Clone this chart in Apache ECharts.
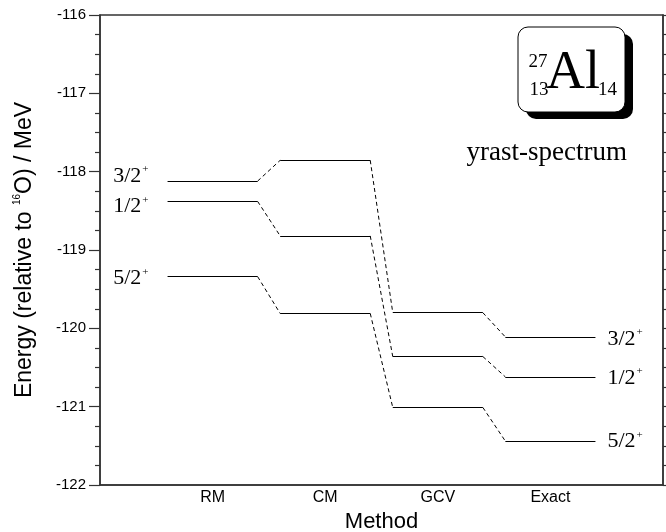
<!DOCTYPE html>
<html>
<head>
<meta charset="utf-8">
<script src="https://cdn.jsdelivr.net/npm/echarts@6/dist/echarts.min.js"></script>
<style>
html,body{margin:0;padding:0;background:#fff;}
#chart{width:666px;height:532px;}
</style>
</head>
<body>
<div id="chart"></div>
<script>
// ---- data ----
const methods = ['RM', 'CM', 'GCV', 'Exact'];
const spins = ['3/2', '1/2', '5/2'];
const e32 = [-118.12, -117.855, -119.80, -120.11];
const e12 = [-118.38, -118.82, -120.36, -120.62];
const e52 = [-119.34, -119.81, -121.01, -121.44];
const yRange = [-122, -116];

// ---- layout / style (not data) ----
const levels = [e32, e12, e52];
const halfWidth = 0.4;
const leftLabelShift = [-5, 5, 2];   // px, vertical nudge of left labels
const rightLabelShift = [2, 1, 0];   // px, vertical nudge of right labels
const serif = '"Liberation Serif", "DejaVu Serif", serif';
const sans = '"Liberation Sans", Arial, sans-serif';

const levelRich = {
  n: { fontFamily: serif, fontSize: 22, color: '#000', lineHeight: 24 },
  s: { fontFamily: serif, fontSize: 11, color: '#000', verticalAlign: 'top', lineHeight: 24, padding: [0, 0, 0, 1] }
};

function spinLabel(k, pos, dist, dy) {
  const pad = dy >= 0 ? [2 * dy, 0, 0, 0] : [0, 0, -2 * dy, 0];
  return {
    show: true, position: pos, distance: dist, padding: pad,
    color: '#000', opacity: 1, textBorderWidth: 0,
    formatter: '{n|' + spins[k] + '}{s|+}', rich: levelRich
  };
}

const series = [];
levels.forEach(function (arr, k) {
  const last = arr.length - 1;
  const levelData = arr.map(function (v, i) {
    const item = { coords: [[i + 1 - halfWidth, v], [i + 1 + halfWidth, v]] };
    if (i === 0) item.label = spinLabel(k, 'start', 19, leftLabelShift[k]);
    else if (i === last) item.label = spinLabel(k, 'end', 12, rightLabelShift[k]);
    else item.label = { show: false };
    return item;
  });
  const connData = [];
  for (let i = 0; i < last; i++) {
    connData.push({ coords: [[i + 1 + halfWidth, arr[i]], [i + 2 - halfWidth, arr[i + 1]]] });
  }
  series.push({
    type: 'lines', coordinateSystem: 'cartesian2d', silent: true,
    lineStyle: { color: '#000', width: 1.2, type: 'solid', opacity: 1 },
    emphasis: { disabled: true },
    labelLayout: { hideOverlap: false },
    data: levelData, z: 3
  });
  series.push({
    type: 'lines', coordinateSystem: 'cartesian2d', silent: true,
    lineStyle: { color: '#000', width: 1, type: [4, 3], opacity: 1 },
    data: connData, z: 3
  });
});

const axisColor = '#333';
const option = {
  animation: false,
  backgroundColor: '#fff',
  grid: {
    left: 100, right: 3, top: 15, bottom: 47, containLabel: false, outerBoundsMode: 'none',
    show: true, borderColor: axisColor, borderWidth: 1.5, backgroundColor: 'transparent'
  },
  xAxis: {
    type: 'value', min: 0, max: methods.length + 1, interval: 1,
    axisLine: { show: true, lineStyle: { color: axisColor, width: 1.5 } },
    axisTick: { show: false },
    splitLine: { show: false },
    axisLabel: {
      color: '#000', fontFamily: sans, fontSize: 16, margin: 5,
      formatter: function (v) { return methods[v - 1] || ''; }
    },
    name: 'Method', nameLocation: 'middle', nameGap: 25,
    nameTextStyle: { color: '#000', fontFamily: sans, fontSize: 22 }
  },
  yAxis: [{
    type: 'value', min: yRange[0], max: yRange[1], interval: 1, position: 'left',
    axisLine: { show: true, lineStyle: { color: axisColor, width: 1.5 } },
    axisTick: { show: true, length: 11, lineStyle: { color: axisColor, width: 1.2 } },
    minorTick: { show: true, splitNumber: 4, length: 5, lineStyle: { color: axisColor, width: 1.2 } },
    splitLine: { show: false },
    axisLabel: { color: '#000', fontFamily: sans, fontSize: 15, margin: 14 },
    name: '{a|Energy (relative to }{s|16}{a|O) / MeV}',
    nameLocation: 'middle', nameGap: 62, nameRotate: 90,
    nameTextStyle: {
      rich: {
        a: { fontFamily: sans, fontSize: 23, color: '#000', lineHeight: 26 },
        s: { fontFamily: sans, fontSize: 10, color: '#000', verticalAlign: 'top', lineHeight: 26 }
      }
    }
  }, {
    type: 'value', min: yRange[0], max: yRange[1], interval: 1, position: 'right',
    axisLine: { show: true, lineStyle: { color: axisColor, width: 1.5 } },
    axisTick: { show: true, length: 7, lineStyle: { color: axisColor, width: 1.2 } },
    minorTick: { show: true, splitNumber: 4, length: 5, lineStyle: { color: axisColor, width: 1.2 } },
    splitLine: { show: false },
    axisLabel: { show: false }
  }],
  graphic: [
    { type: 'rect', shape: { x: 526, y: 34, width: 107, height: 85, r: 10 }, style: { fill: '#000' }, z: 10 },
    { type: 'rect', shape: { x: 518, y: 27, width: 107, height: 85, r: 10 }, style: { fill: '#fff', stroke: '#000', lineWidth: 1 }, z: 11 },
    { type: 'text', z: 12, style: { text: '27', x: 538, y: 62, align: 'center', verticalAlign: 'middle', fontFamily: serif, fontSize: 19, fill: '#000' } },
    { type: 'text', z: 12, style: { text: '13', x: 539, y: 90, align: 'center', verticalAlign: 'middle', fontFamily: serif, fontSize: 19, fill: '#000' } },
    { type: 'text', z: 12, style: { text: 'Al', x: 546, y: 74, align: 'left', verticalAlign: 'middle', fontFamily: serif, fontSize: 54, fill: '#000' } },
    { type: 'text', z: 12, style: { text: '14', x: 598, y: 90, align: 'left', verticalAlign: 'middle', fontFamily: serif, fontSize: 19, fill: '#000' } },
    { type: 'text', z: 12, style: { text: 'yrast-spectrum', x: 627, y: 153, align: 'right', verticalAlign: 'middle', fontFamily: serif, fontSize: 27, fill: '#000' } }
  ],
  series: series
};

const chart = echarts.init(document.getElementById('chart'), null, { renderer: 'canvas' });
chart.setOption(option);
</script>
</body>
</html>
